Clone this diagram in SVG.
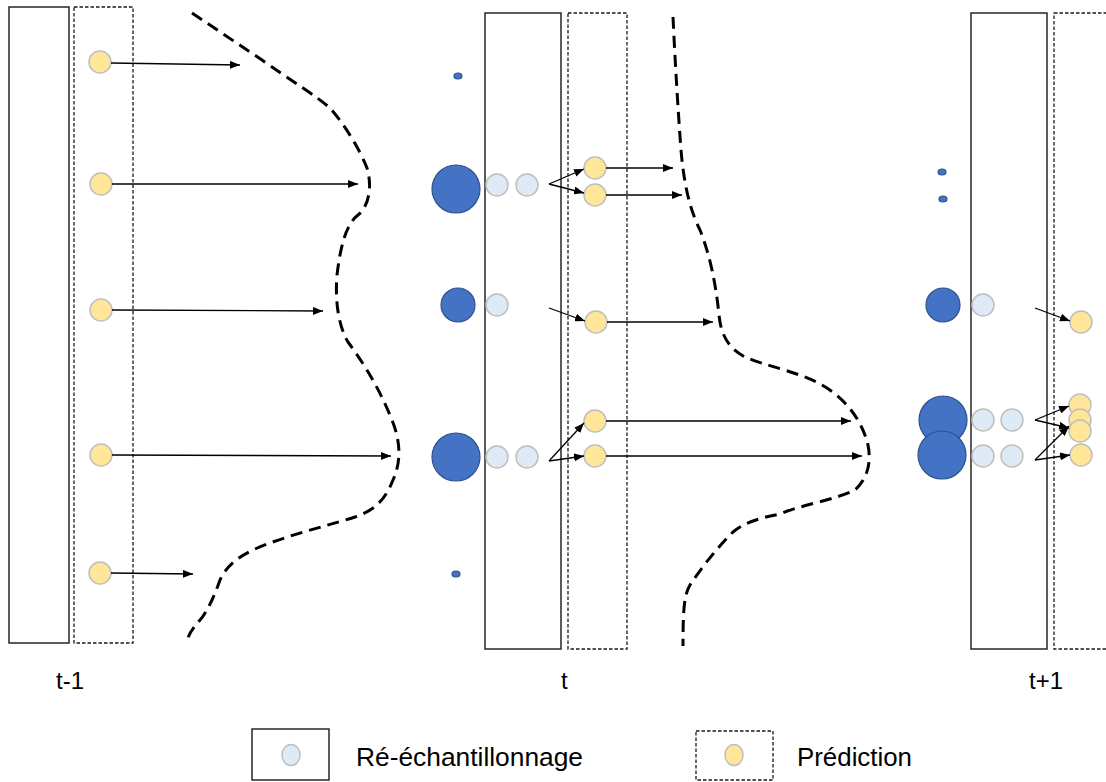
<svg xmlns="http://www.w3.org/2000/svg" width="1106" height="782" viewBox="0 0 1106 782">
<defs>
<marker id="ah" markerWidth="10" markerHeight="8" refX="10" refY="4" orient="auto" markerUnits="userSpaceOnUse">
<path d="M0,0 L10,4 L0,8 Z" fill="#000"/>
</marker>
<style>
.solid{fill:#fff;stroke:#262626;stroke-width:1.5}
.dash{fill:#fff;stroke:#1a1a1a;stroke-width:1.3;stroke-dasharray:3.5,2}
.y{fill:#FFE699;stroke:#BFBFBF;stroke-width:1.5}
.lb{fill:#DEEBF7;stroke:#BFBFBF;stroke-width:1.5}
.b{fill:#4472C4;stroke:#2F528F;stroke-width:1.2}
.curve{fill:none;stroke:#000;stroke-width:3;stroke-dasharray:12,7}
.arr{fill:none;stroke:#000;stroke-width:1.3;marker-end:url(#ah)}
.lbl{font-family:"Liberation Sans",Arial,sans-serif;font-size:24px;fill:#000}
.leg{font-family:"Liberation Sans",Arial,sans-serif;font-size:25px;fill:#000}
</style>
</defs>
<rect width="1106" height="782" fill="#fff"/>

<g id="panel-t-1">
<rect class="solid" x="9" y="7" width="60" height="636"/>
<rect class="dash" x="74" y="7" width="59" height="636"/>
<circle class="y" cx="100" cy="62" r="11"/>
<circle class="y" cx="101" cy="184" r="11"/>
<circle class="y" cx="101" cy="310" r="11"/>
<circle class="y" cx="101" cy="455" r="11"/>
<circle class="y" cx="100" cy="573" r="11"/>
<text class="lbl" x="56" y="689">t-1</text>
</g>

<g id="panel-t">
<rect class="solid" x="485" y="13" width="76" height="636"/>
<rect class="dash" x="568" y="13" width="59" height="636"/>
<ellipse class="b" cx="458" cy="76" rx="4" ry="3"/>
<circle class="b" cx="456" cy="189" r="24"/>
<circle class="b" cx="458" cy="305" r="17"/>
<circle class="b" cx="456" cy="457" r="24"/>
<ellipse class="b" cx="456" cy="574" rx="4" ry="3"/>
<circle class="lb" cx="497" cy="185" r="11"/>
<circle class="lb" cx="527" cy="185" r="11"/>
<circle class="lb" cx="497" cy="305" r="11"/>
<circle class="lb" cx="497" cy="457" r="11"/>
<circle class="lb" cx="527" cy="457" r="11"/>
<circle class="y" cx="595" cy="168" r="11"/>
<circle class="y" cx="595" cy="195" r="11"/>
<circle class="y" cx="596" cy="322" r="11"/>
<circle class="y" cx="595" cy="421" r="11"/>
<circle class="y" cx="595" cy="456" r="11"/>
<text class="lbl" x="561" y="689">t</text>
</g>

<g id="panel-t1">
<rect class="solid" x="971" y="13" width="76" height="636"/>
<rect class="dash" x="1054" y="13" width="60" height="636"/>
<ellipse class="b" cx="942" cy="172" rx="4" ry="3"/>
<ellipse class="b" cx="943" cy="199" rx="4" ry="3"/>
<ellipse class="b" cx="943" cy="305" rx="17" ry="17"/>
<circle class="b" cx="943" cy="420" r="24"/>
<circle class="b" cx="942" cy="455" r="24"/>
<circle class="lb" cx="983" cy="305" r="11"/>
<circle class="lb" cx="983" cy="420" r="11"/>
<circle class="lb" cx="1012" cy="420" r="11"/>
<circle class="lb" cx="983" cy="456" r="11"/>
<circle class="lb" cx="1012" cy="456" r="11"/>
<circle class="y" cx="1081" cy="322" r="11"/>
<circle class="y" cx="1080" cy="405" r="11"/>
<circle class="y" cx="1080" cy="420" r="11"/>
<circle class="y" cx="1080" cy="431" r="11"/>
<circle class="y" cx="1081" cy="455" r="11"/>
<text class="lbl" x="1029" y="689">t+1</text>
</g>

<g id="distributions">
<path class="curve" d="M192,13 L262,60 C290,80 315,95 330,108 C345,125 360,150 367,168 C372,185 370,205 358,215 C345,225 340,250 337,275 C335,300 338,325 348,342 C365,365 380,390 392,420 C400,440 402,460 393,480 C385,500 375,510 355,517 C330,525 300,532 270,543 C245,552 228,562 220,580 C213,600 205,615 200,620 C193,628 190,632 188,638"/>
<path class="curve" d="M673,17 C675,60 678,110 681,150 C684,185 690,210 700,230 C710,255 716,285 719,315 C721,335 728,348 745,357 C765,366 800,372 822,385 C845,398 862,420 868,445 C872,465 866,480 855,490 C835,500 800,505 780,514 C760,518 745,522 733,532 C715,550 700,570 690,585 C684,595 683,610 683,646"/>
</g>

<g id="connectors">
<line class="arr" x1="111" y1="63" x2="240" y2="65"/>
<line class="arr" x1="112" y1="184" x2="358" y2="184"/>
<line class="arr" x1="112" y1="310" x2="323" y2="311"/>
<line class="arr" x1="112" y1="455" x2="391" y2="456"/>
<line class="arr" x1="111" y1="573" x2="193" y2="574"/>
<line class="arr" x1="549" y1="184" x2="584" y2="169"/>
<line class="arr" x1="549" y1="184" x2="584" y2="193"/>
<line class="arr" x1="549" y1="308" x2="585" y2="321"/>
<line class="arr" x1="549" y1="461" x2="584" y2="423"/>
<line class="arr" x1="549" y1="461" x2="584" y2="456"/>
<line class="arr" x1="606" y1="168" x2="673" y2="168"/>
<line class="arr" x1="606" y1="195" x2="682" y2="195"/>
<line class="arr" x1="607" y1="322" x2="713" y2="322"/>
<line class="arr" x1="606" y1="421" x2="851" y2="421"/>
<line class="arr" x1="606" y1="456" x2="862" y2="456"/>
<line class="arr" x1="1035" y1="308" x2="1070" y2="321"/>
<line class="arr" x1="1035" y1="420" x2="1069" y2="406"/>
<line class="arr" x1="1035" y1="420" x2="1069" y2="428"/>
<line class="arr" x1="1035" y1="460" x2="1069" y2="426"/>
<line class="arr" x1="1035" y1="460" x2="1070" y2="455"/>
</g>

<g id="legend-resampling">
<rect class="solid" x="252" y="729" width="77" height="51"/>
<ellipse class="lb" cx="291" cy="755" rx="9" ry="10.5"/>
<text class="leg" x="356" y="766" textLength="227" lengthAdjust="spacingAndGlyphs">Ré-échantillonnage</text>
</g>
<g id="legend-prediction">
<rect class="dash" x="696" y="731" width="77" height="49"/>
<ellipse class="y" cx="734" cy="755" rx="9" ry="10.5"/>
<text class="leg" x="797" y="766" textLength="115" lengthAdjust="spacingAndGlyphs">Prédiction</text>
</g>
</svg>
